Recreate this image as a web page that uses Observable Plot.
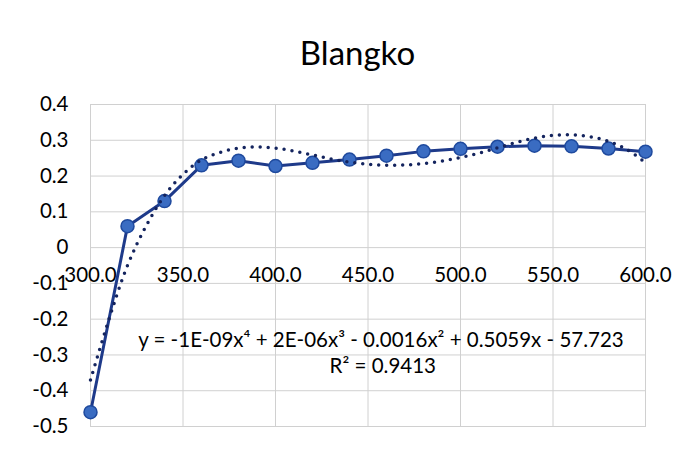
<!DOCTYPE html>
<html>
<head>
<meta charset="utf-8">
<script src="https://cdn.jsdelivr.net/npm/d3@7"></script>
<script src="https://cdn.jsdelivr.net/npm/@observablehq/plot@0.6"></script>
<style>
  html, body { margin: 0; padding: 0; background: #ffffff; }
  #wrap { width: 685px; height: 450px; position: relative; font-family: Lato, "Open Sans", sans-serif; }
  #title { height: 80px; box-sizing: border-box; padding-top: 36px; padding-left: 30px; text-align: center;
           font-size: 33px; line-height: 33px; color: #000; }
  svg { display: block; }
</style>
</head>
<body>
<div id="wrap">
  <div id="title">Blangko</div>
  <div id="chart"></div>
</div>
<script>
// Data
const wavelength = [300, 320, 340, 360, 380, 400, 420, 440, 460, 480, 500, 520, 540, 560, 580, 600];
const absorbance = [-0.46, 0.06, 0.13, 0.23, 0.243, 0.228, 0.237, 0.246, 0.257, 0.269, 0.276, 0.282, 0.285, 0.283, 0.277, 0.268];

// Polynomial trendline (order 4)
const trendX = [300, 310, 320, 330, 340, 350, 360, 370, 380, 390, 400, 410, 420, 430, 440, 450, 460, 470, 480, 490, 500, 510, 520, 530, 540, 550, 560, 570, 580, 590, 600];
const trendY = [-0.37, -0.2, -0.05, 0.06, 0.145, 0.205, 0.245, 0.266, 0.278, 0.281, 0.278, 0.27, 0.259, 0.248, 0.239, 0.233, 0.23, 0.231, 0.235, 0.242, 0.252, 0.264, 0.279, 0.294, 0.306, 0.314, 0.315, 0.31, 0.297, 0.274, 0.237];

const xTicks = [300, 350, 400, 450, 500, 550, 600];
const yTicks = [-0.5, -0.4, -0.3, -0.2, -0.1, 0, 0.1, 0.2, 0.3, 0.4];

const equationLabels = ["y = -1E-09x⁴ + 2E-06x³ - 0.0016x² + 0.5059x - 57.723", "R² = 0.9413"];

const series = wavelength.map((x, i) => ({x, y: absorbance[i]}));
const trend = trendX.map((x, i) => ({x, y: trendY[i]}));

const gridColor = "#d0d0d0";

const chart = Plot.plot({
  width: 685,
  height: 370,
  marginTop: 24,
  marginBottom: 24,
  marginLeft: 90,
  marginRight: 40,
  style: {fontFamily: "Lato, 'Open Sans', sans-serif", background: "transparent", color: "#000"},
  x: {domain: [300, 600], axis: null},
  y: {domain: [-0.5, 0.4], label: null},
  marks: [
    Plot.gridX(xTicks, {stroke: gridColor, strokeOpacity: 1}),
    Plot.gridY(yTicks, {stroke: gridColor, strokeOpacity: 1}),
    Plot.frame({stroke: gridColor}),
    Plot.axisY(yTicks, {tickSize: 0, tickPadding: 22, fontSize: 20.5, fill: "#000", label: null,
      tickFormat: d => d === 0 ? "0" : String(d)}),
    Plot.text(xTicks, {x: d => d, y: () => 0, dy: 28, text: d => d.toFixed(1), fontSize: 20.5, fill: "#000"}),
    Plot.line(series, {x: "x", y: "y", stroke: "#1e3a8a", strokeWidth: 3}),
    Plot.dot(series, {x: "x", y: "y", r: 6.5, fill: "#3a6cc2", stroke: "#1f4a9e", strokeWidth: 1.5}),
    Plot.line(trend, {x: "x", y: "y", curve: "catmull-rom", stroke: "#14245e", strokeWidth: 3.5,
      strokeDasharray: "0,8", strokeLinecap: "round"}),
    Plot.text([equationLabels[0]], {x: () => 457, y: () => -0.26, text: d => d, fontSize: 20.5, fill: "#000"}),
    Plot.text([equationLabels[1]], {x: () => 458, y: () => -0.333, text: d => d, fontSize: 20.5, fill: "#000"})
  ]
});
document.getElementById("chart").appendChild(chart);
</script>
</body>
</html>
